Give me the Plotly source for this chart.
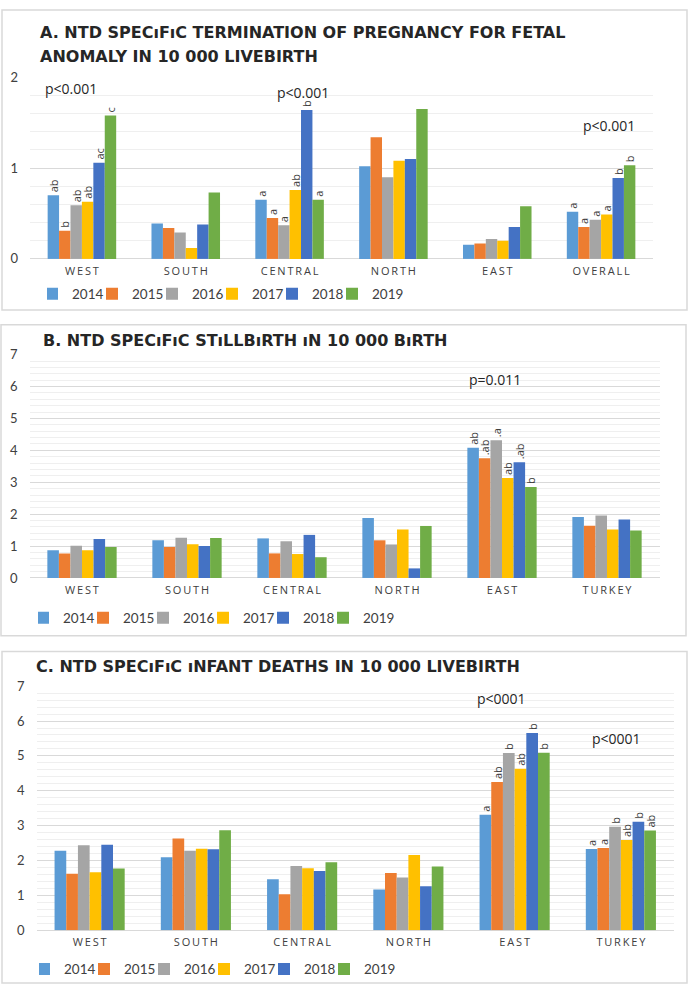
import plotly.graph_objects as go

W, H = 690, 993

years = ["2014", "2015", "2016", "2017", "2018", "2019"]
colors = ["#5B9BD5", "#ED7D31", "#A5A5A5", "#FFC000", "#4472C4", "#70AD47"]

regions_a = ["WEST", "SOUTH", "CENTRAL", "NORTH", "EAST", "OVERALL"]
regions_bc = ["WEST", "SOUTH", "CENTRAL", "NORTH", "EAST", "TURKEY"]

# A. termination of pregnancy for fetal anomaly (per 10 000 livebirth)
a_2014 = [0.70, 0.39, 0.65, 1.02, 0.155, 0.52]
a_2015 = [0.31, 0.34, 0.45, 1.34, 0.17, 0.35]
a_2016 = [0.59, 0.29, 0.37, 0.90, 0.22, 0.43]
a_2017 = [0.63, 0.12, 0.76, 1.08, 0.20, 0.49]
a_2018 = [1.06, 0.38, 1.64, 1.10, 0.35, 0.89]
a_2019 = [1.58, 0.73, 0.65, 1.65, 0.58, 1.03]
a_lab_2014 = ["ab", "", "a", "", "", "a"]
a_lab_2015 = ["b", "", "a", "", "", "a"]
a_lab_2016 = ["ab", "", "a", "", "", "a"]
a_lab_2017 = ["ab", "", "ab", "", "", "a"]
a_lab_2018 = ["ac", "", "b", "", "", "b"]
a_lab_2019 = ["c", "", "a", "", "", "b"]

# B. stillbirth (per 10 000 birth)
b_2014 = [0.87, 1.18, 1.24, 1.88, 4.08, 1.91]
b_2015 = [0.77, 0.97, 0.77, 1.18, 3.75, 1.64]
b_2016 = [1.01, 1.26, 1.15, 1.05, 4.32, 1.96]
b_2017 = [0.87, 1.06, 0.75, 1.52, 3.13, 1.52]
b_2018 = [1.22, 1.00, 1.35, 0.30, 3.63, 1.83]
b_2019 = [0.97, 1.25, 0.65, 1.63, 2.85, 1.49]
b_lab_2014 = ["", "", "", "", "ab", ""]
b_lab_2015 = ["", "", "", "", ".ab", ""]
b_lab_2016 = ["", "", "", "", ".a", ""]
b_lab_2017 = ["", "", "", "", "ab", ""]
b_lab_2018 = ["", "", "", "", ".ab", ""]
b_lab_2019 = ["", "", "", "", "b", ""]

# C. infant deaths (per 10 000 livebirth)
c_2014 = [2.28, 2.09, 1.46, 1.17, 3.31, 2.33]
c_2015 = [1.62, 2.63, 1.03, 1.64, 4.25, 2.36]
c_2016 = [2.44, 2.28, 1.84, 1.51, 5.08, 2.97]
c_2017 = [1.66, 2.34, 1.78, 2.16, 4.63, 2.59]
c_2018 = [2.45, 2.32, 1.70, 1.26, 5.66, 3.11]
c_2019 = [1.77, 2.87, 1.95, 1.83, 5.09, 2.86]
c_lab_2014 = ["", "", "", "", "a", "a"]
c_lab_2015 = ["", "", "", "", "ab", "a"]
c_lab_2016 = ["", "", "", "", "b", "b"]
c_lab_2017 = ["", "", "", "", "ab", "ab"]
c_lab_2018 = ["", "", "", "", "b", "b"]
c_lab_2019 = ["", "", "", "", "b", "ab"]

title_a1 = "A. NTD SPECıFıC TERMINATION OF PREGNANCY FOR FETAL"
title_a2 = "ANOMALY IN 10 000 LIVEBIRTH"
title_b = "B. NTD SPECıFıC STıLLBıRTH ıN 10 000 BıRTH"
title_c = "C. NTD SPECıFıC ıNFANT DEATHS IN 10 000 LIVEBIRTH"

panels = [
    dict(cats=regions_a, vals=[a_2014, a_2015, a_2016, a_2017, a_2018, a_2019],
         labs=[a_lab_2014, a_lab_2015, a_lab_2016, a_lab_2017, a_lab_2018, a_lab_2019],
         ymax=2, xpx=(30, 653), ypx=(255, 70.4), legend="legend", sfx=""),
    dict(cats=regions_bc, vals=[b_2014, b_2015, b_2016, b_2017, b_2018, b_2019],
         labs=[b_lab_2014, b_lab_2015, b_lab_2016, b_lab_2017, b_lab_2018, b_lab_2019],
         ymax=7, xpx=(29.5, 659.5), ypx=(579.3, 352.3), legend="legend2", sfx="2"),
    dict(cats=regions_bc, vals=[c_2014, c_2015, c_2016, c_2017, c_2018, c_2019],
         labs=[c_lab_2014, c_lab_2015, c_lab_2016, c_lab_2017, c_lab_2018, c_lab_2019],
         ymax=7, xpx=(36.5, 674), ypx=(937.3, 689.3), legend="legend3", sfx="3"),
]


def px(x):
    return x / W


def py(y):
    return 1 - y / H


fig = go.Figure()
TXT = "#404040"
for p in panels:
    for yr, col, v, lab in zip(years, colors, p["vals"], p["labs"]):
        fig.add_trace(go.Bar(
            x=p["cats"], y=v, name=yr, marker_color=col, marker_line_width=0,
            text=lab, textposition="outside", textangle=-90, constraintext="none",
            cliponaxis=False, textfont=dict(family="Open Sans", size=11, color=TXT),
            xaxis="x" + p["sfx"], yaxis="y" + p["sfx"], legend=p["legend"],
            hoverinfo="skip",
        ))

layout = dict(
    width=W, height=H, margin=dict(l=0, r=0, t=0, b=0),
    paper_bgcolor="white", plot_bgcolor="white",
    barmode="group", bargap=0.34, bargroupgap=0,
    font=dict(family="Lato", color=TXT),
    hovermode=False,
)

for p in panels:
    s = p["sfx"]
    layout["xaxis" + s] = dict(
        domain=[px(p["xpx"][0]), px(p["xpx"][1])], anchor="y" + s,
        type="category", tickvals=p["cats"],
        ticktext=["\u2009".join(c) for c in p["cats"]],
        tickfont=dict(family="Open Sans", size=11, color=TXT),
        showline=False, showgrid=False, ticks="", ticklabelstandoff=4,
        fixedrange=True,
    )
    layout["yaxis" + s] = dict(
        domain=[py(p["ypx"][0]), py(p["ypx"][1])], anchor="x" + s,
        range=[0, p["ymax"]], dtick=1, tick0=0,
        showgrid=True, gridcolor="#d9d9d9", gridwidth=1,
        zeroline=True, zerolinecolor="#d9d9d9", zerolinewidth=1,
        minor=dict(dtick=0.2, showgrid=True, gridcolor="#efefef", gridwidth=1),
        tickfont=dict(family="Lato", size=13, color=TXT),
        ticks="", ticklabelstandoff=11, showline=False, fixedrange=True,
    )

leg_common = dict(orientation="h", xanchor="left", yanchor="middle",
                  bgcolor="rgba(0,0,0,0)", font=dict(family="Lato", size=13.5, color=TXT),
                  itemwidth=30, indentation=-15, itemclick=False, itemdoubleclick=False,
                  tracegroupgap=0, traceorder="normal", entrywidthmode="pixels",
                  entrywidth=30)
layout["legend"] = dict(leg_common, x=px(47), y=py(290.7))
layout["legend2"] = dict(leg_common, x=px(38), y=py(620))
layout["legend3"] = dict(leg_common, x=px(39), y=py(977))

# panel borders
shapes = []
for (x0, y0, x1, y1) in [(2, 2, 687, 307), (1, 322, 686, 638), (2, 654, 687, 991)]:
    shapes.append(dict(type="rect", xref="paper", yref="paper",
                       x0=px(x0), x1=px(x1), y0=py(y0), y1=py(y1),
                       line=dict(color="#d9d9d9", width=1.5), fillcolor="rgba(0,0,0,0)",
                       layer="below"))
layout["shapes"] = shapes

tfont = dict(family="DejaVu Sans", size=16, color="#262626", weight="bold")
annotations = [
    dict(text=title_a1, x=px(38), y=py(25), xref="paper", yref="paper",
         xanchor="left", yanchor="middle", showarrow=False, font=tfont),
    dict(text=title_a2, x=px(38), y=py(49), xref="paper", yref="paper",
         xanchor="left", yanchor="middle", showarrow=False, font=tfont),
    dict(text=title_b, x=px(41), y=py(338), xref="paper", yref="paper",
         xanchor="left", yanchor="middle", showarrow=False, font=tfont),
    dict(text=title_c, x=px(34), y=py(669), xref="paper", yref="paper",
         xanchor="left", yanchor="middle", showarrow=False, font=tfont),
]
pfont = dict(family="Open Sans", size=14, color="#262626")
for txt, x, y, xr, yr in [
    ("p<0.001", -0.105, 1.877, "x", "y"),
    ("p<0.001", 2.126, 1.83, "x", "y"),
    ("p<0.001", 5.078, 1.47, "x", "y"),
    ("p=0.011", 3.93, 6.22, "x2", "y2"),
    ("p<0001", 3.88, 6.65, "x3", "y3"),
    ("p<0001", 4.96, 5.49, "x3", "y3"),
]:
    annotations.append(dict(text=txt, x=x, y=y, xref=xr, yref=yr, showarrow=False,
                            xanchor="center", yanchor="middle", font=pfont))
layout["annotations"] = annotations

fig.update_layout(**layout)
fig.write_html("out.html", config={"displayModeBar": False},
               post_script="document.body.style.margin='0';")
